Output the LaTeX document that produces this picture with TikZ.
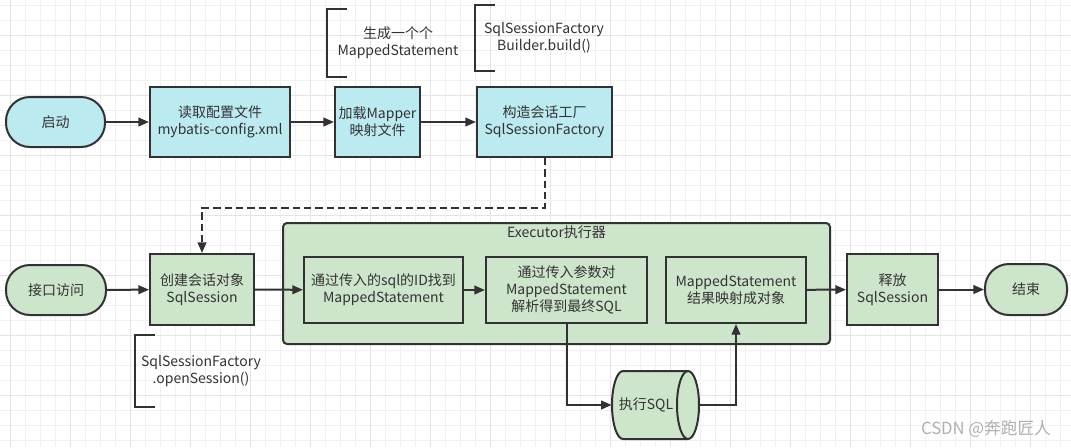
\documentclass[tikz,border=0pt]{standalone}
\usepackage{fontspec}
\setmainfont{Noto Sans CJK SC}
\usetikzlibrary{arrows.meta}
\definecolor{cyanfill}{RGB}{187,234,240}
\definecolor{greenfill}{RGB}{205,230,203}
\definecolor{edge}{RGB}{50,50,50}
\definecolor{txt}{RGB}{51,51,51}
\definecolor{gridminor}{RGB}{241,241,241}
\definecolor{gridmajor}{RGB}{228,228,228}
\definecolor{wm}{RGB}{175,175,175}
\begin{document}
\begin{tikzpicture}[x=0.75pt,y=-0.75pt,
  font=\fontsize{10.5}{12.75}\selectfont,
  base/.style={draw=edge, line width=1.5pt, align=center, inner sep=0pt, text=txt},
  cyanbox/.style={base, fill=cyanfill},
  greenbox/.style={base, fill=greenfill},
  term/.style={rounded corners=18pt},
  conn/.style={draw=edge, line width=1.5pt, -{Triangle[length=8pt,width=6.5pt]}},
  dashconn/.style={conn, dash pattern=on 5.5pt off 3pt},
  brk/.style={draw=edge, line width=1.5pt},
  note/.style={align=center, text=txt, inner sep=0pt}
]
% background and grid
\fill[white] (0,0) rectangle (1071,447);
\useasboundingbox (0,0) rectangle (1071,447);
\foreach \x in {10,25,...,1070} \draw[gridminor, line width=0.75pt] (\x,0) -- (\x,447);
\foreach \y in {5,20,...,446} \draw[gridminor, line width=0.75pt] (0,\y) -- (1071,\y);
\foreach \x in {10,70,...,1070} \draw[gridmajor, line width=0.75pt] (\x,0) -- (\x,447);
\foreach \y in {35,95,...,446} \draw[gridmajor, line width=0.75pt] (0,\y) -- (1071,\y);

% top row
\node[cyanbox, term, minimum width=74.25pt, minimum height=37.5pt] (start) at (55.5,122) {启动};
\node[cyanbox, minimum width=105pt, minimum height=52.5pt] (read) at (220,122) {读取配置文件\\mybatis-config.xml};
\node[cyanbox, minimum width=63.75pt, minimum height=52.5pt] (load) at (377.5,122) {加载Mapper\\映射文件};
\node[cyanbox, minimum width=101.25pt, minimum height=52.5pt] (build) at (544.5,122) {构造会话工厂\\SqlSessionFactory};

% executor container
\node[greenbox, rounded corners=3pt, minimum width=410.25pt, minimum height=90.75pt] (exec) at (556.5,283.5) {};
\node[note] (execlabel) at (556.5,232) {Executor执行器};

% bottom row
\node[greenbox, term, minimum width=75pt, minimum height=37.5pt] (iface) at (56,290) {接口访问};
\node[greenbox, minimum width=78pt, minimum height=53.25pt] (create) at (202,289.5) {创建会话对象\\SqlSession};
\node[greenbox, minimum width=119.25pt, minimum height=49.5pt] (b1) at (383.5,290) {通过传入的sql的ID找到\\MappedStatement};
\node[greenbox, minimum width=120.75pt, minimum height=49.5pt] (b2) at (566.5,290) {通过传入参数对\\MappedStatement\\解析得到最终SQL};
\node[greenbox, minimum width=105pt, minimum height=49.5pt] (b3) at (736,290) {MappedStatement\\结果映射成对象};
\node[greenbox, minimum width=68.25pt, minimum height=53.25pt] (release) at (892.5,289.5) {释放\\SqlSession};
\node[greenbox, term, minimum width=61.5pt, minimum height=38.25pt] (end) at (1026,289.5) {结束};

% cylinder
\fill[greenfill] (623,371) -- (688,371) arc[start angle=-90, end angle=90, x radius=11, y radius=34]
  -- (623,439) arc[start angle=90, end angle=270, x radius=11, y radius=34] -- cycle;
\draw[edge, line width=1.5pt] (623,371) -- (688,371) arc[start angle=-90, end angle=90, x radius=11, y radius=34]
  -- (623,439) arc[start angle=90, end angle=270, x radius=11, y radius=34] -- cycle;
\draw[edge, line width=1.5pt] (688,371) arc[start angle=-90, end angle=-270, x radius=11, y radius=34];
\node[note, minimum width=65.25pt, minimum height=51pt] (sql) at (655.5,405) {};
\node[note] (sqltext) at (646,405) {执行SQL};

% connectors
\draw[conn] (start) -- (read);
\draw[conn] (read) -- (load);
\draw[conn] (load) -- (build);
\draw[dashconn] (build.south) -- ++(0,50) -| (create.north);
\draw[conn] (iface) -- (create);
\draw[conn] (create) -- (b1);
\draw[conn] (b1) -- (b2);
\draw[conn] (b2.south) |- (sql.west);
\draw[conn] (sql.east) -| (b3.south);
\draw[conn] (b3) -- (release);
\draw[conn] (release) -- (end);

% bracket notes
\draw[brk] (347,9) -- (327,9) -- (327,77) -- (347,77);
\node[note] (n1) at (398,43) {生成一个个\\MappedStatement};
\draw[brk] (495,5) -- (475,5) -- (475,71) -- (495,71);
\node[note] (n2) at (544,38) {SqlSessionFactory\\Builder.build()};
\draw[brk] (155,335) -- (135,335) -- (135,407) -- (155,407);
\node[note] (n3) at (201,371) {SqlSessionFactory\\.openSession()};

% watermark
\node[text=wm, inner sep=0pt, font=\fontsize{12.5}{14}\selectfont] (wmark) at (986,429) {CSDN @奔跑匠人};
\end{tikzpicture}
\end{document}
